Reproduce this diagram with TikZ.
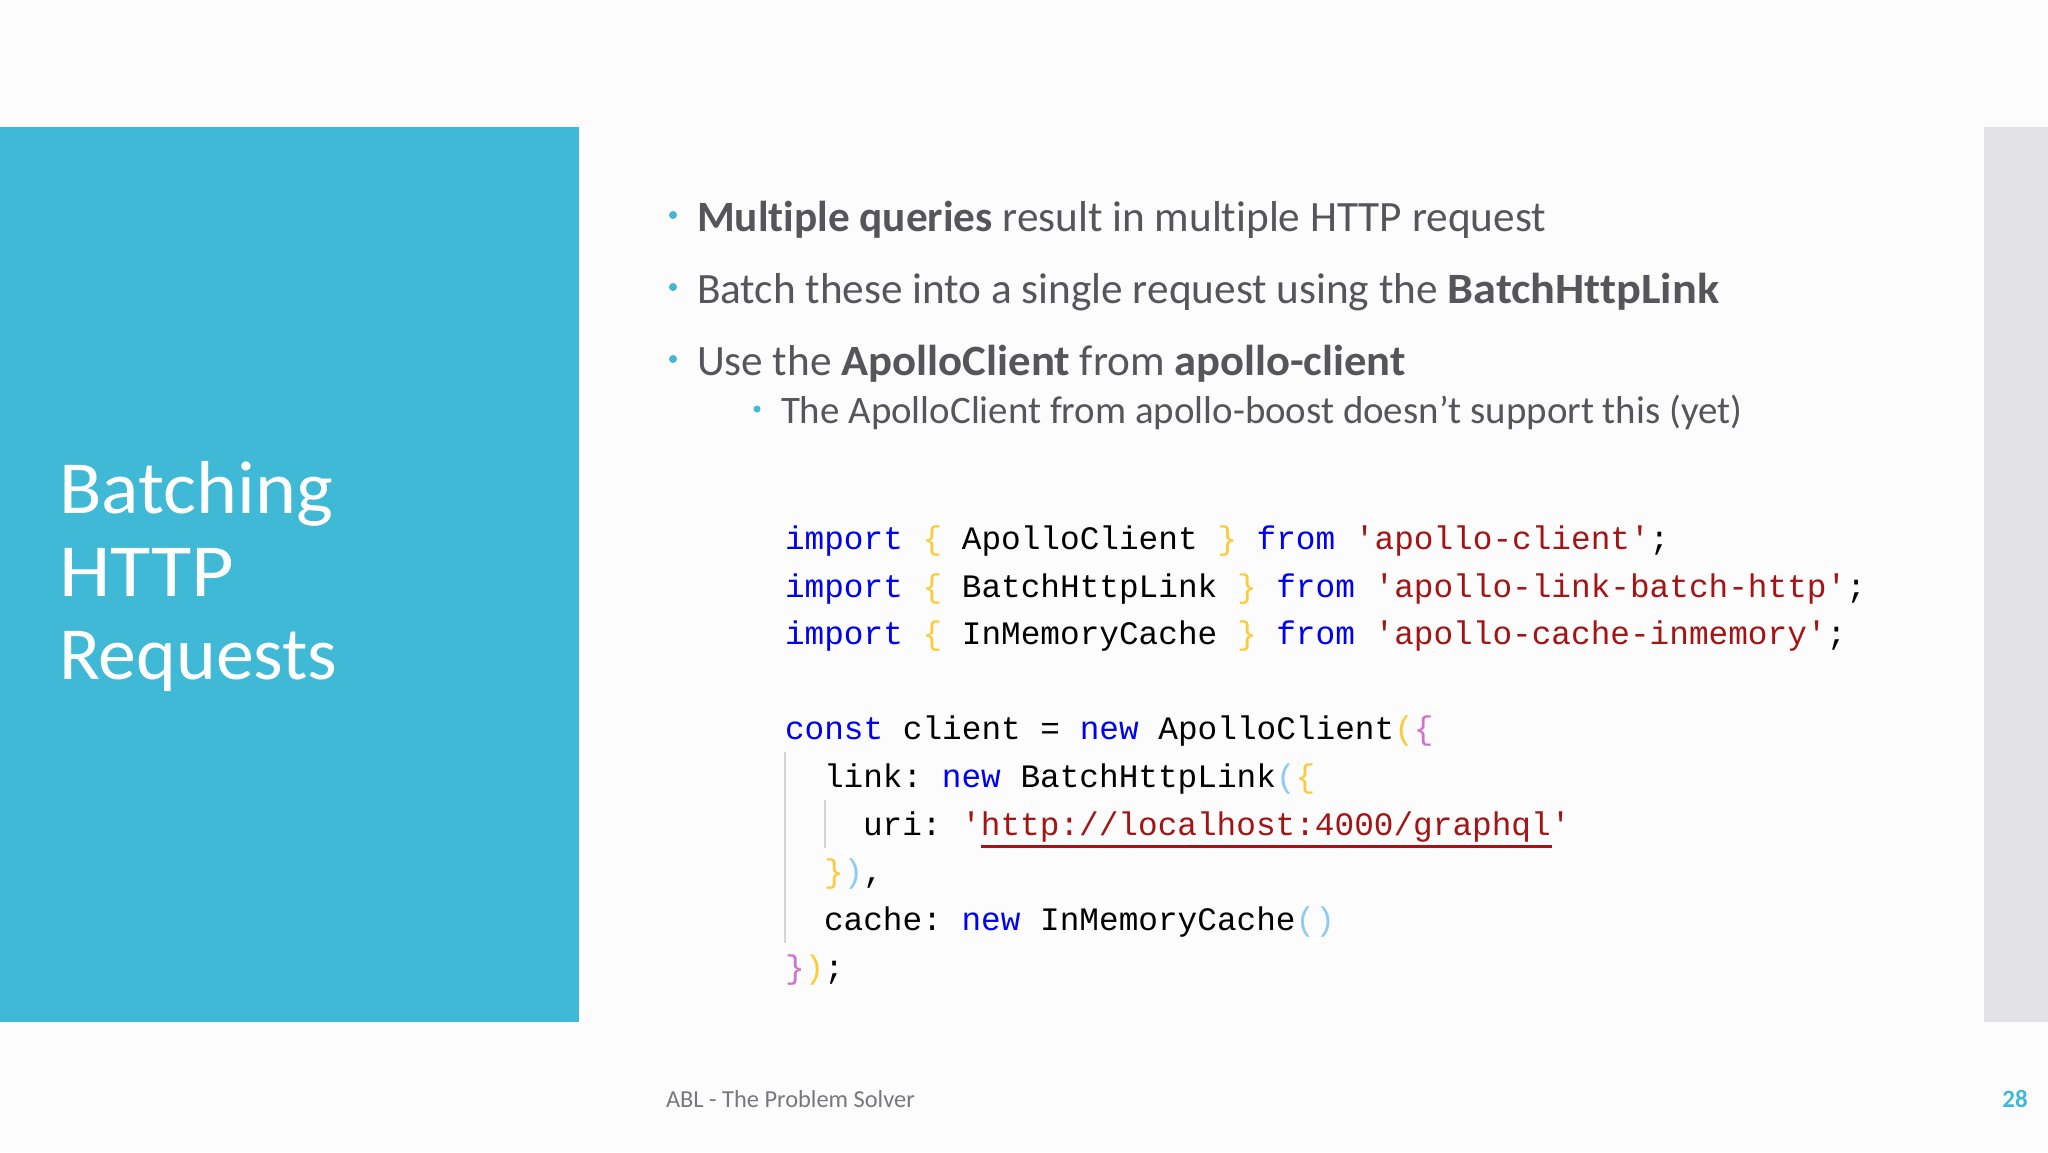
\documentclass[tikz,border=0pt]{standalone}
\usepackage{fontspec}
\setmainfont[Ligatures={TeX,NoCommon}]{Carlito}
\setmonofont{Liberation Mono}
\definecolor{teal1}{HTML}{40B9D6}
\definecolor{sidegray}{HTML}{E3E3E5}
\definecolor{bodytext}{HTML}{55555A}
\definecolor{foot}{HTML}{77777C}
\definecolor{kwblue}{HTML}{0000F0}
\definecolor{strred}{HTML}{A31515}
\definecolor{byellow}{HTML}{FBCB3C}
\definecolor{bpink}{HTML}{D070D0}
\definecolor{bblue}{HTML}{8FCBF0}
\definecolor{guide}{HTML}{D4D4D4}
\newcommand{\cKw}[1]{\textcolor{kwblue}{#1}}
\newcommand{\cStr}[1]{\textcolor{strred}{#1}}
\newcommand{\cYe}[1]{\textcolor{byellow}{#1}}
\newcommand{\cPk}[1]{\textcolor{bpink}{#1}}
\newcommand{\cBl}[1]{\textcolor{bblue}{#1}}
\tikzset{
  txt/.style={anchor=base west,inner sep=0pt,outer sep=0pt},
  body/.style={txt,text=bodytext,font=\fontsize{43.25}{52}\selectfont},
  subbody/.style={txt,text=bodytext,font=\fontsize{38.9}{46}\selectfont},
  bul/.style={circle,fill=teal1,inner sep=0pt,minimum size=8pt},
  subbul/.style={circle,fill=teal1,inner sep=0pt,minimum size=7pt},
  code/.style={txt,text=black,font=\fontsize{32.75}{40}\selectfont\ttfamily\frenchspacing},
  title/.style={txt,text=white,font=\fontsize{75}{84}\selectfont},
  guideline/.style={draw=guide,line width=1.5pt},
}
\begin{document}
\begin{tikzpicture}[x=1pt,y=-1pt]
\useasboundingbox (0,0) rectangle (2048,1152);
\fill[white!99!black] (0,0) rectangle (2048,1152);
\fill[teal1] (0,127) rectangle (579,1022);
\fill[sidegray] (1984,127) rectangle (2048,1022);
\node[title] (t1) at (59,513) {\scalebox{1.04}[1]{Batching}};
\node[title] (t2) at (59,596) {\scalebox{1.10}[1]{HTTP}};
\node[title] (t3) at (59,679) {\scalebox{1.01}[1]{Requests}};
\node[bul] (b1) at (673,215) {};
\node[bul] (b2) at (673,287) {};
\node[bul] (b3) at (673,359) {};
\node[subbul] (b4) at (757,409) {};
\node[body] (l1) at (697,231) {\textbf{Multiple queries} result in multiple HTTP request};
\node[body] (l2) at (697,303) {Batch these into a single request using the \scalebox{1.07}[1]{\textbf{BatchHttpLink}}};
\node[body] (l3) at (697,375) {Use the \scalebox{1.035}[1]{\textbf{ApolloClient}} from \scalebox{1.03}[1]{\textbf{apollo-client}}};
\node[subbody] (l4) at (781,423) {The ApolloClient from apollo-boost doesn’t support this (yet)};
\node[code] (c1) at (785,549) {\cKw{import} \cYe{\{} ApolloClient \cYe{\}} \cKw{from} \cStr{'apollo-client'};};
\node[code] (c2) at (785,597) {\cKw{import} \cYe{\{} BatchHttpLink \cYe{\}} \cKw{from} \cStr{'apollo-link-batch-http'};};
\node[code] (c3) at (785,644) {\cKw{import} \cYe{\{} InMemoryCache \cYe{\}} \cKw{from} \cStr{'apollo-cache-inmemory'};};
\node[code] (c4) at (785,739) {\cKw{const} client = \cKw{new} ApolloClient\cYe{(}\cPk{\{}};
\node[code] (c5) at (824,787) {link: \cKw{new} BatchHttpLink\cBl{(}\cYe{\{}};
\node[code] (c6) at (863,835) {uri: \cStr{'http://localhost:4000/graphql'}};
\node[code] (c7) at (824,882) {\cYe{\}}\cBl{)},};
\node[code] (c8) at (824,930) {cache: \cKw{new} InMemoryCache\cBl{()}};
\node[code] (c9) at (785,978) {\cPk{\}}\cYe{)};};
\coordinate (g1a) at (785,752); \coordinate (g1b) at (785,943);
\coordinate (g2a) at (825,800); \coordinate (g2b) at (825,848);
\coordinate (u1) at (981,846); \coordinate (u2) at (1552,846);
\draw[guideline] (g1a) -- (g1b);
\draw[guideline] (g2a) -- (g2b);
\draw[draw=strred,line width=3pt] (u1) -- (u2);
\node[txt,text=foot,font=\fontsize{24.4}{30}\selectfont] (f1) at (666,1107) {ABL - The Problem Solver};
\node[anchor=base east,inner sep=0pt,text=teal1,font=\fontsize{25}{30}\selectfont\bfseries] (f2) at (2028,1107) {28};
\end{tikzpicture}
\end{document}
